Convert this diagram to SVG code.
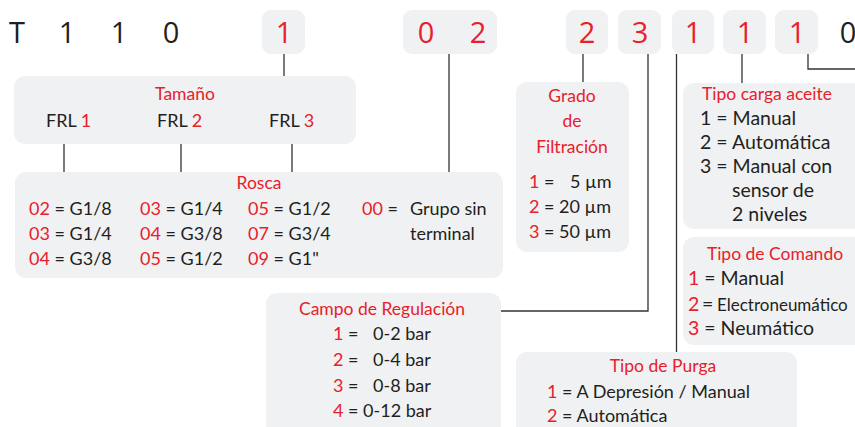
<svg xmlns="http://www.w3.org/2000/svg" width="855" height="427" viewBox="0 0 855 427">
<style>
.bx{fill:#f0f1f3}
.cn{fill:none;stroke:#333;stroke-width:1.3}
.code{font-family:"Open Sans","Noto Sans",sans-serif;font-size:29px;text-anchor:middle;fill:#231f20}
.t{font-family:Lato,"Liberation Sans",sans-serif;font-size:18px;fill:#231f20}
.b{font-size:19.5px}
.s{font-size:17px}
.h{font-family:Lato,"Liberation Sans",sans-serif;font-size:17.5px;fill:#e8202a;text-anchor:middle}
.r{fill:#e8202a}
</style>
<rect width="855" height="427" fill="#ffffff"/>
<g id="code">
<rect class="bx" x="262" y="10" width="43" height="44" rx="9"/>
<rect class="bx" x="403" y="10" width="94" height="44" rx="9"/>
<rect class="bx" x="566" y="10" width="42" height="44" rx="9"/>
<rect class="bx" x="618" y="10" width="43" height="44" rx="9"/>
<rect class="bx" x="672" y="10" width="42" height="44" rx="9"/>
<rect class="bx" x="723" y="10" width="43" height="44" rx="9"/>
<rect class="bx" x="775" y="10" width="43" height="44" rx="9"/>
<text class="code" y="43"><tspan x="17">T</tspan><tspan x="67">1</tspan><tspan x="119">1</tspan><tspan x="171">0</tspan><tspan class="r" x="284">1</tspan><tspan class="r" x="426">0</tspan><tspan class="r" x="478">2</tspan><tspan class="r" x="587">2</tspan><tspan class="r" x="640">3</tspan><tspan class="r" x="693">1</tspan><tspan class="r" x="745">1</tspan><tspan class="r" x="797">1</tspan><tspan x="848">0</tspan></text>
</g>
<g id="connectors">
<path class="cn" d="M284 54V76"/>
<path class="cn" d="M64 144V172M181 144V172M292 144V172"/>
<path class="cn" d="M449 54V172"/>
<path class="cn" d="M583 54V82"/>
<path class="cn" d="M648 54V311H501"/>
<path class="cn" d="M676.5 54V352"/>
<path class="cn" d="M742 54V83"/>
<path class="cn" d="M808 54V69H855"/>
</g>
<g id="tamano">
<rect class="bx" x="14" y="76" width="342" height="68" rx="11"/>
<text class="h" x="185" y="100">Tamaño</text>
<text class="t" y="127"><tspan x="46">FRL <tspan class="r">1</tspan></tspan><tspan x="157">FRL <tspan class="r">2</tspan></tspan><tspan x="269">FRL <tspan class="r">3</tspan></tspan></text>
</g>
<g id="rosca">
<rect class="bx" x="15" y="172" width="488" height="106" rx="11"/>
<text class="h" x="259" y="189">Rosca</text>
<text class="t" y="215"><tspan x="29"><tspan class="r">02</tspan> = G1/8</tspan><tspan x="140"><tspan class="r">03</tspan> = G1/4</tspan><tspan x="248"><tspan class="r">05</tspan> = G1/2</tspan><tspan x="362" class="r">00</tspan><tspan> =</tspan><tspan x="410">Grupo sin</tspan></text>
<text class="t" y="240"><tspan x="29"><tspan class="r">03</tspan> = G1/4</tspan><tspan x="140"><tspan class="r">04</tspan> = G3/8</tspan><tspan x="248"><tspan class="r">07</tspan> = G3/4</tspan><tspan x="410">terminal</tspan></text>
<text class="t" y="265"><tspan x="29"><tspan class="r">04</tspan> = G3/8</tspan><tspan x="140"><tspan class="r">05</tspan> = G1/2</tspan><tspan x="248"><tspan class="r">09</tspan> = G1"</tspan></text>
</g>
<g id="grado">
<rect class="bx" x="516" y="82" width="113" height="170" rx="11"/>
<text class="h" x="572" y="102">Grado</text>
<text class="h" x="572" y="127">de</text>
<text class="h" x="572" y="153">Filtración</text>
<text class="t" y="188"><tspan x="529" class="r">1</tspan><tspan> =</tspan><tspan x="570">5 µm</tspan></text>
<text class="t" y="213"><tspan x="529" class="r">2</tspan><tspan> = 20 µm</tspan></text>
<text class="t" y="238"><tspan x="529" class="r">3</tspan><tspan> = 50 µm</tspan></text>
</g>
<g id="aceite">
<rect class="bx" x="683" y="83" width="185" height="146" rx="11"/>
<text class="h" x="767" y="100">Tipo carga aceite</text>
<text class="t b" x="700" y="125">1 = Manual</text>
<text class="t b" x="700" y="149">2 = Automática</text>
<text class="t b" x="700" y="173">3 = Manual con</text>
<text class="t b" x="732" y="197">sensor de</text>
<text class="t b" x="732" y="221">2 niveles</text>
</g>
<g id="comando">
<rect class="bx" x="683" y="237" width="185" height="108" rx="11"/>
<text class="h" x="775" y="260">Tipo de Comando</text>
<text class="t b" y="285"><tspan x="688" class="r">1</tspan><tspan> = Manual</tspan></text>
<text class="t b" y="311"><tspan x="688" class="r">2</tspan><tspan x="702">=</tspan></text>
<text class="t s" y="311" x="717">Electroneumático</text>
<text class="t b" y="335"><tspan x="688" class="r">3</tspan><tspan> = Neumático</tspan></text>
</g>
<g id="campo">
<rect class="bx" x="266" y="293" width="235" height="145" rx="11"/>
<text class="h" x="382" y="315">Campo de Regulación</text>
<text class="t" y="340"><tspan x="333" class="r">1</tspan><tspan> =</tspan><tspan x="373">0-2 bar</tspan></text>
<text class="t" y="366"><tspan x="333" class="r">2</tspan><tspan> =</tspan><tspan x="373">0-4 bar</tspan></text>
<text class="t" y="392"><tspan x="333" class="r">3</tspan><tspan> =</tspan><tspan x="373">0-8 bar</tspan></text>
<text class="t" y="417"><tspan x="333" class="r">4</tspan><tspan> = 0-12 bar</tspan></text>
</g>
<g id="purga">
<rect class="bx" x="516" y="352" width="281" height="86" rx="11"/>
<text class="h" x="663" y="372">Tipo de Purga</text>
<text class="t" y="398"><tspan x="547" class="r">1</tspan><tspan> = A Depresión / Manual</tspan></text>
<text class="t" y="422"><tspan x="547" class="r">2</tspan><tspan> = Automática</tspan></text>
</g>
</svg>
